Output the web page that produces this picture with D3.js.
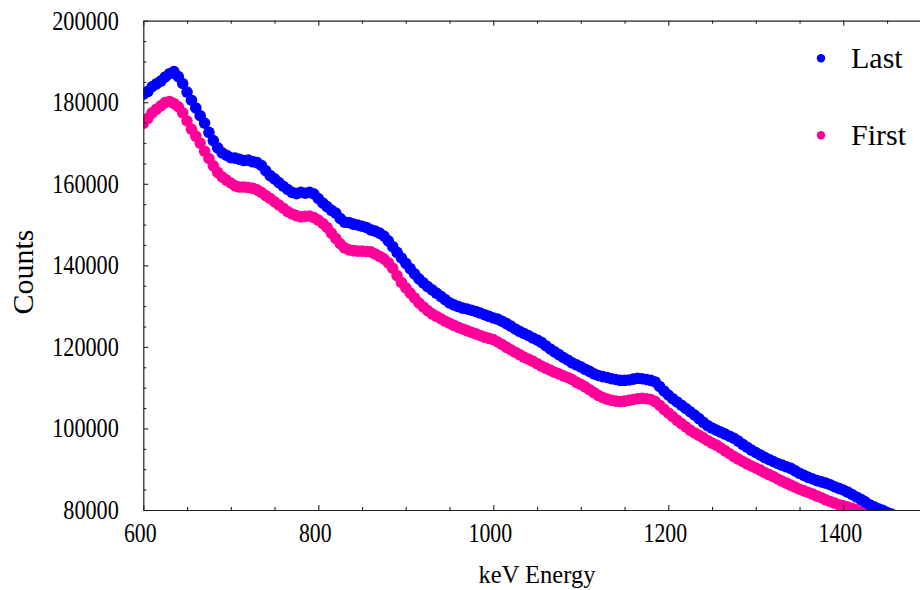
<!DOCTYPE html>
<html>
<head>
<meta charset="utf-8">
<script src="https://cdn.jsdelivr.net/npm/d3@7"></script>
<style>
  html, body { margin: 0; padding: 0; background: #fff; }
  svg { display: block; }
</style>
</head>
<body>
<div id="chart"></div>
<script>
// spectrum bins: 5 keV wide, starting at 600 keV
const energyStart = 600;
const energyStep = 5;

// "Last" run, counts per bin (600 .. 1460 keV)
const lastCounts = [
  182000, 182600, 183800, 184500, 185200, 186200, 187000, 187500, 186300, 184600,
  182500, 180500, 178600, 176700, 174900, 172600, 170600, 168800, 167600, 167000,
  166400, 166300, 166000, 165700, 165800, 165400, 165200, 164500, 163200, 162000,
  161200, 160300, 159400, 158600, 157900, 157600, 157900, 157700, 157900, 157500,
  156400, 155300, 154400, 153500, 152800, 151500, 150600, 150500, 150100, 149900,
  149600, 149300, 148700, 148400, 147900, 147200, 146000, 144600, 143200, 141800,
  140500, 139200, 137900, 136700, 135700, 134800, 134000, 133200, 132400, 131600,
  130800, 130300, 129900, 129500, 129300, 129000, 128700, 128300, 127900, 127500,
  127100, 126800, 126300, 125700, 125100, 124400, 123800, 123300, 122800, 122200,
  121700, 121100, 120300, 119500, 118800, 118100, 117400, 116800, 116100, 115600,
  115100, 114500, 114000, 113400, 113000, 112700, 112500, 112200, 112000, 111800,
  111800, 111900, 112100, 112300, 112200, 112000, 111800, 111400, 110300, 109200,
  108200, 107300, 106500, 105700, 104900, 104100, 103300, 102400, 101500, 100700,
  100100, 99600, 99100, 98600, 98100, 97600, 96900, 96100, 95400, 94700,
  94100, 93500, 92900, 92400, 91900, 91400, 91000, 90600, 90200, 89600,
  89000, 88500, 88000, 87600, 87200, 86900, 86600, 86200, 85700, 85300,
  84900, 84400, 83800, 83200, 82600, 82000, 81300, 80800, 80300, 79900,
  79400, 79000, 78600
];

// "First" run, counts per bin (600 .. 1430 keV)
const firstCounts = [
  174800, 176000, 177400, 178300, 179100, 179900, 180200, 179700, 178900, 177400,
  175400, 173400, 171700, 170000, 168000, 166200, 164400, 162800, 161700, 160900,
  160200, 159500, 159200, 159200, 159100, 158900, 158500, 157900, 157100, 156400,
  155600, 154800, 154000, 153200, 152600, 152200, 151900, 152000, 152100, 151700,
  151100, 150300, 149300, 147900, 146600, 145300, 144300, 143800, 143600, 143500,
  143500, 143400, 143300, 142800, 142200, 141600, 140600, 139300, 137500, 135800,
  134500, 133200, 132000, 130800, 129800, 128900, 128100, 127500, 126900, 126300,
  125800, 125300, 124800, 124400, 124000, 123600, 123200, 122800, 122400, 122100,
  121800, 121200, 120600, 119900, 119300, 118700, 118100, 117500, 117000, 116500,
  115900, 115300, 114800, 114300, 113800, 113400, 112900, 112500, 112000, 111300,
  110800, 110200, 109500, 108800, 108100, 107600, 107200, 106900, 106700, 106600,
  106700, 106900, 107100, 107300, 107400, 107300, 107100, 106600, 105700, 104700,
  103800, 102900, 102000, 101200, 100400, 99600, 98900, 98300, 97700, 97000,
  96400, 95900, 95200, 94500, 93800, 93100, 92500, 91900, 91300, 90800,
  90300, 89800, 89200, 88700, 88200, 87600, 87100, 86600, 86100, 85600,
  85100, 84700, 84300, 83900, 83400, 83000, 82500, 82100, 81700, 81300,
  81000, 80700, 80400, 80050, 79700, 79400, 79100
];

const xMajor = [600, 800, 1000, 1200, 1400];
const xMinor = [650, 700, 750, 850, 900, 950, 1050, 1100, 1150, 1250, 1300, 1350, 1450];
const yMajor = [80000, 100000, 120000, 140000, 160000, 180000, 200000];
const yMinor = [85000, 90000, 95000, 105000, 110000, 115000, 125000, 130000, 135000,
  145000, 150000, 155000, 165000, 170000, 175000, 185000, 190000, 195000];

const series = [
  { name: 'First', color: '#ff0099', values: firstCounts },
  { name: 'Last', color: '#0000ff', values: lastCounts }
];
const legendOrder = ['Last', 'First'];

const width = 920, height = 590;
const plot = { left: 143.3, top: 20.7, right: 930.8, bottom: 510 };
const serif = '"Liberation Serif", "Times New Roman", serif';

const x = d3.scaleLinear().domain([600, 1500]).range([plot.left, plot.right]);
const y = d3.scaleLinear().domain([80000, 200000]).range([plot.bottom, plot.top]);

const svg = d3.select('#chart').append('svg')
  .attr('width', width)
  .attr('height', height);

svg.append('rect').attr('width', width).attr('height', height).attr('fill', '#fff');

svg.append('clipPath').attr('id', 'plotclip')
  .append('rect')
  .attr('x', plot.left).attr('y', plot.top)
  .attr('width', plot.right - plot.left)
  .attr('height', plot.bottom - plot.top);

// points
const gPts = svg.append('g').attr('clip-path', 'url(#plotclip)');
series.forEach(s => {
  gPts.append('g')
    .attr('fill', s.color)
    .selectAll('circle')
    .data(s.values.map((v, i) => ({ e: energyStart + i * energyStep, c: v })))
    .join('circle')
    .attr('cx', d => x(d.e))
    .attr('cy', d => y(d.c))
    .attr('r', 5.8);
});

// axes
const axisColor = '#222';
function styleAxis(g) {
  g.selectAll('path.domain').attr('stroke', axisColor).attr('stroke-width', 1.2);
  g.selectAll('.tick line').attr('stroke', axisColor).attr('stroke-width', 1.1);
}

// compress labels horizontally, the reference digits are narrow
function squeeze(sel, perChar) {
  sel.each(function () {
    const t = d3.select(this);
    const n = t.text().length;
    t.attr('textLength', n * perChar).attr('lengthAdjust', 'spacingAndGlyphs');
  });
}

const gx = svg.append('g')
  .attr('transform', `translate(0,${plot.bottom})`)
  .call(d3.axisBottom(x).tickValues(xMajor).tickSize(-5).tickSizeOuter(0).tickFormat(d3.format('d')));
gx.attr('font-family', serif);
gx.selectAll('.tick text')
  .attr('y', 32).attr('dy', 0).attr('dx', -3.5)
  .attr('fill', '#000')
  .style('font-size', '28px')
  .style('font-family', serif)
  .call(squeeze, 10.9);
styleAxis(gx);

const gxMinor = svg.append('g')
  .attr('transform', `translate(0,${plot.bottom})`)
  .call(d3.axisBottom(x).tickValues(xMinor).tickSize(-3).tickSizeOuter(0).tickFormat(''));
gxMinor.select('path.domain').remove();
styleAxis(gxMinor);

const gTop = svg.append('g')
  .attr('transform', `translate(0,${plot.top})`)
  .call(d3.axisTop(x).tickValues(xMajor).tickSize(-5).tickSizeOuter(0).tickFormat(''));
styleAxis(gTop);
const gTopMinor = svg.append('g')
  .attr('transform', `translate(0,${plot.top})`)
  .call(d3.axisTop(x).tickValues(xMinor).tickSize(-3).tickSizeOuter(0).tickFormat(''));
gTopMinor.select('path.domain').remove();
styleAxis(gTopMinor);

const gy = svg.append('g')
  .attr('transform', `translate(${plot.left},0)`)
  .call(d3.axisLeft(y).tickValues(yMajor).tickSize(-5).tickSizeOuter(0).tickFormat(d3.format('d')));
gy.attr('font-family', serif);
gy.selectAll('.tick text')
  .attr('x', -24.5).attr('dy', 8.5)
  .attr('fill', '#000')
  .style('font-size', '28px')
  .style('font-family', serif)
  .call(squeeze, 11.1);
styleAxis(gy);

const gyMinor = svg.append('g')
  .attr('transform', `translate(${plot.left},0)`)
  .call(d3.axisLeft(y).tickValues(yMinor).tickSize(-3).tickSizeOuter(0).tickFormat(''));
gyMinor.select('path.domain').remove();
styleAxis(gyMinor);

// axis titles
svg.append('text')
  .attr('x', 537).attr('y', 583)
  .attr('text-anchor', 'middle')
  .attr('textLength', 117).attr('lengthAdjust', 'spacingAndGlyphs')
  .style('font-family', serif)
  .style('font-size', '26px')
  .text('keV Energy');

svg.append('text')
  .attr('transform', 'translate(33,272) rotate(-90)')
  .attr('text-anchor', 'middle')
  .style('font-family', serif)
  .style('font-size', '30px')
  .text('Counts');

// legend
const legend = svg.append('g');
legendOrder.forEach((name, i) => {
  const s = series.find(d => d.name === name);
  const ly = 58.3 + i * 77;
  legend.append('circle').attr('cx', 821).attr('cy', ly).attr('r', 4.2).attr('fill', s.color);
  legend.append('text')
    .attr('x', 851).attr('y', ly + 10)
    .style('font-family', serif)
    .style('font-size', '30px')
    .text(name);
});
</script>
</body>
</html>
